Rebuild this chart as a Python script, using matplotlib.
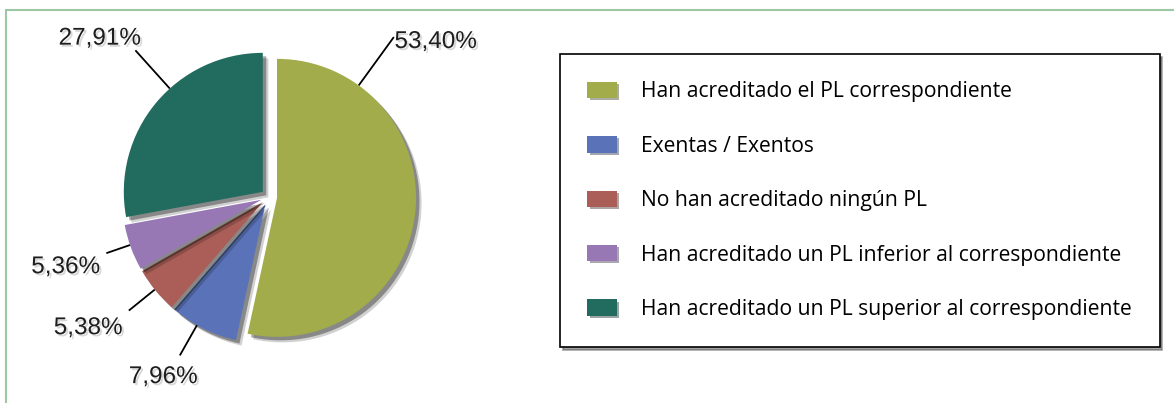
import numpy as np
import matplotlib
matplotlib.use("Agg")
import matplotlib.pyplot as plt
import matplotlib.patheffects as pe
from matplotlib.patches import Rectangle

# --- data ---
categories = [
    "Han acreditado el PL correspondiente",
    "Exentas / Exentos",
    "No han acreditado ningún PL",
    "Han acreditado un PL inferior al correspondiente",
    "Han acreditado un PL superior al correspondiente",
]
values = [53.40, 7.96, 5.38, 5.36, 27.91]
value_labels = ["53,40%", "7,96%", "5,38%", "5,36%", "27,91%"]
colors = ["#A2AC4B", "#5A72B8", "#AA5E57", "#9878B4", "#226B5F"]

# label placement: anchor angle on the wedge edge, leader length, text angle, text radius
anchor_ang = [54, -119.5, -141, -161, 132]
leader_r = [1.43, 1.25, 1.24, 1.18, 1.37]
text_ang = [44.5, -120.6, -144.2, -161.0, 136.8]
text_r = [1.60, 1.445, 1.55, 1.49, 1.61]

W, H = 1174, 403
R = 139.0          # pie radius in px
cx, cy = 269, 197  # pie centre in px (from top-left)
explode = 0.058

fig = plt.figure(figsize=(W / 100, H / 100), dpi=100)
ax = fig.add_axes([0, 0, 1, 1])
ax.set_axis_off()

wedges, _ = ax.pie(
    values,
    colors=colors,
    startangle=90,
    counterclock=False,
    explode=[explode] * len(values),
    radius=1.0,
    wedgeprops=dict(linewidth=0),
)
shadow = [
    pe.SimplePatchShadow(offset=(4, -4), shadow_rgbFace="black", alpha=0.18),
    pe.SimplePatchShadow(offset=(2.5, -2.5), shadow_rgbFace="black", alpha=0.35),
    pe.Normal(),
]
for w in wedges:
    w.set_path_effects(shadow)

ax.set_xlim(-cx / R, (W - cx) / R)
ax.set_ylim(-(H - cy) / R, cy / R)
ax.set_aspect("equal", adjustable="box")

txt_fx = [pe.withSimplePatchShadow(offset=(1.5, -1.5), shadow_rgbFace="gray", alpha=0.3)]
for w, lab, a, lr, ta, tr in zip(wedges, value_labels, anchor_ang, leader_r, text_ang, text_r):
    x0, y0 = w.center
    a_r = np.radians(a)
    ax.plot([x0 + np.cos(a_r), x0 + lr * np.cos(a_r)],
            [y0 + np.sin(a_r), y0 + lr * np.sin(a_r)],
            color="black", lw=1.3, solid_capstyle="butt")
    t_r = np.radians(ta)
    ax.text(x0 + tr * np.cos(t_r), y0 + tr * np.sin(t_r), lab,
            ha="center", va="center", fontsize=17.5, family="Liberation Sans",
            color="#1e1e1e", path_effects=txt_fx)

# legend
leg = fig.legend(
    wedges, categories,
    loc="upper left",
    bbox_to_anchor=(560 / W, 1 - 54 / H),
    frameon=True, fancybox=False, shadow=True,
    prop=dict(family="Open Sans", size=15.2),
    handlelength=1.38, handleheight=0.8, handletextpad=1.18,
    labelspacing=1.58, borderpad=1.3, borderaxespad=0,
)
leg.get_frame().set_edgecolor("black")
leg.get_frame().set_linewidth(1.2)
for h in leg.legend_handles:
    h.set_path_effects([pe.SimplePatchShadow(offset=(1.5, -1.5), alpha=0.4), pe.Normal()])

# outer frame (only top and left edges fall inside the image)
fig.patches.append(Rectangle((6 / W, -0.1), 1.2, 1 - 10 / H + 0.1,
                             transform=fig.transFigure, fill=False,
                             edgecolor="#9CC8A4", linewidth=1.5))

fig.savefig("out.png", dpi=100)
